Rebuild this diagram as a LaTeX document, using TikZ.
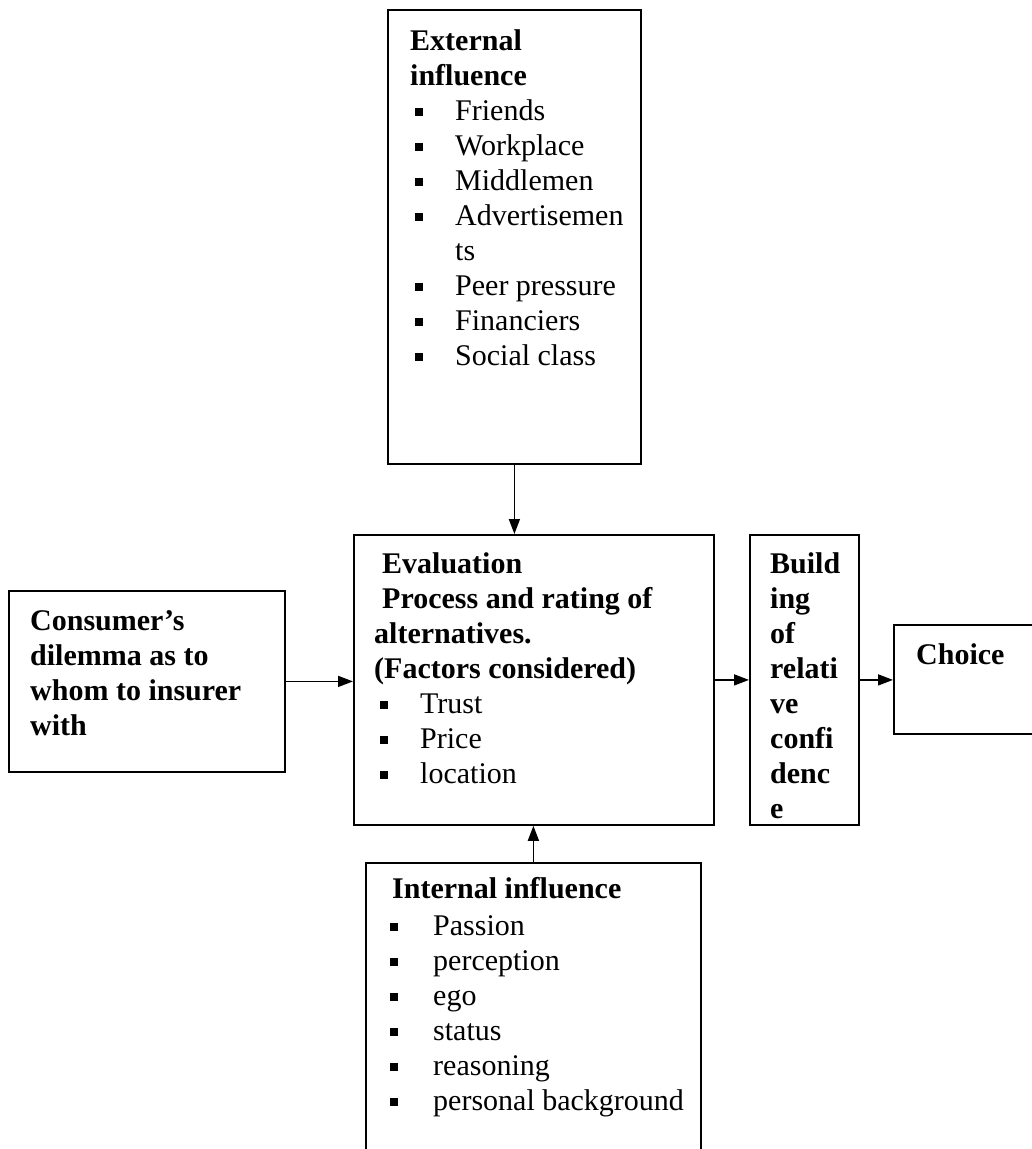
\documentclass[tikz,border=0pt]{standalone}
\usepackage{fontspec}
\setmainfont{Liberation Serif}
\usetikzlibrary{arrows.meta}
\newcommand\sqb{\raisebox{4pt}{\rule{8pt}{8pt}}}
\newcommand\bl[3]{\hspace*{#1}\makebox[#2][l]{\sqb}#3}
\begin{document}
\begin{tikzpicture}[x=1pt,y=-1pt,
  box/.style={draw,line width=1.8pt,inner sep=0pt,anchor=north west},
  txt/.style={anchor=north west,inner sep=0pt,align=left,font=\fontsize{30}{35}\selectfont},
  arr/.style={line width=1.6pt,-{Triangle[length=15pt,width=11pt]}}]
\useasboundingbox[fill=white] (0,0) rectangle (1032,1149);
% boxes
\node[box,minimum width=253pt,minimum height=454pt] (ext) at (387,9) {};
\node[box,minimum width=360pt,minimum height=290pt] (eval) at (353,534) {};
\node[box,minimum width=109pt,minimum height=290pt] (build) at (749,534) {};
\node[box,minimum width=160pt,minimum height=109pt] (choice) at (893,624) {};
\node[box,minimum width=276pt,minimum height=181pt] (cons) at (8,590) {};
\node[box,minimum width=335pt,minimum height=300pt] (int) at (365,862) {};
% texts
\node[txt] (exttxt) at (410,25.5) {\strut\textbf{External}\\
  \textbf{influence}\\
  \bl{5pt}{40pt}{Friends}\\
  \bl{5pt}{40pt}{Workplace}\\
  \bl{5pt}{40pt}{Middlemen}\\
  \bl{5pt}{40pt}{Advertisemen}\\
  \hspace*{45pt}ts\\
  \bl{5pt}{40pt}{Peer pressure}\\
  \bl{5pt}{40pt}{Financiers}\\
  \bl{5pt}{40pt}{Social class}};
\node[txt] (evaltxt) at (374,548.5) {\strut\hspace*{8pt}\textbf{Evaluation}\\
  \hspace*{8pt}\textbf{Process and rating of}\\
  \textbf{alternatives.}\\
  \textbf{(Factors considered)}\\
  \bl{6pt}{40pt}{Trust}\\
  \bl{6pt}{40pt}{Price}\\
  \bl{6pt}{40pt}{location}};
\node[txt] (buildtxt) at (770,548.5) {\strut\textbf{Build}\\
  \textbf{ing}\\
  \textbf{of}\\
  \textbf{relati}\\
  \textbf{ve}\\
  \textbf{confi}\\
  \textbf{denc}\\
  \textbf{e}};
\node[txt] (choicetxt) at (916,639.5) {\strut\textbf{Choice}};
\node[txt] (constxt) at (30,605.5) {\strut\textbf{Consumer’s}\\
  \textbf{dilemma as to}\\
  \textbf{whom to insurer}\\
  \textbf{with}};
\node[txt] (inttxt) at (390,873.5) {\strut\hspace*{2pt}\textbf{Internal influence}\\[2pt]
  \bl{0pt}{43pt}{Passion}\\
  \bl{0pt}{43pt}{perception}\\
  \bl{0pt}{43pt}{ego}\\
  \bl{0pt}{43pt}{status}\\
  \bl{0pt}{43pt}{reasoning}\\
  \bl{0pt}{43pt}{personal background}};
% connectors
\draw[arr] (ext.south) -- (ext.south |- eval.north);
\draw[arr] (int.north) -- (int.north |- eval.south);
\draw[arr] (cons.east) -- (cons.east -| eval.west);
\draw[arr] (eval.east) -- (build.west);
\draw[arr] (build.east) -- (build.east -| choice.west);
\end{tikzpicture}
\end{document}
